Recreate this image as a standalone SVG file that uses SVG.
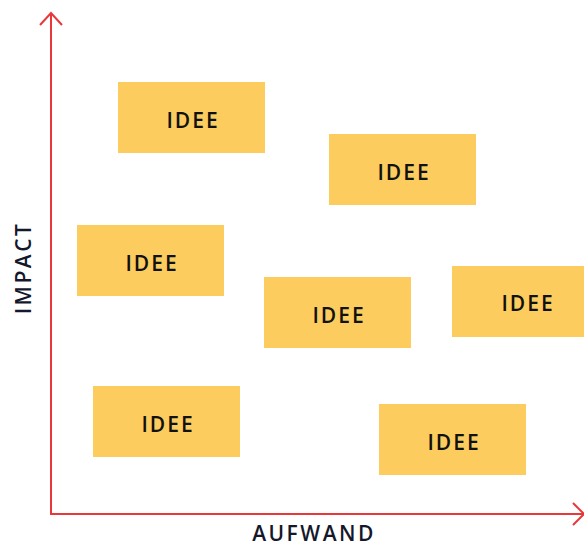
<svg xmlns="http://www.w3.org/2000/svg" width="584" height="546" viewBox="0 0 584 546">
<style>
.box{fill:#fccd5e}
.t{font-family:"Open Sans","Noto Sans",sans-serif;font-weight:600;font-size:21px;letter-spacing:2px;fill:#111;text-anchor:middle}
.ax{font-family:"Open Sans","Noto Sans",sans-serif;font-weight:600;font-size:21px;letter-spacing:2.5px;fill:#15182b;text-anchor:middle}
.axis{stroke:#e8383a;stroke-width:2;fill:none}
</style>
<rect width="584" height="546" fill="#fff"/>
<g id="connectors">
<path class="axis" d="M51,14 V514 H584"/>
<path class="axis" d="M40,25 L51,13 L62,25"/>
<path class="axis" d="M573,503 L584,514 L573,525"/>
</g>
<g id="idee1"><rect class="box" x="118" y="82" width="147" height="71"/><text class="t" x="193" y="128">IDEE</text></g>
<g id="idee2"><rect class="box" x="329" y="134" width="147" height="71"/><text class="t" x="404" y="180">IDEE</text></g>
<g id="idee3"><rect class="box" x="77" y="225" width="147" height="71"/><text class="t" x="152" y="271">IDEE</text></g>
<g id="idee4"><rect class="box" x="264" y="277" width="147" height="71"/><text class="t" x="339" y="323">IDEE</text></g>
<g id="idee5"><rect class="box" x="452" y="266" width="147" height="71"/><text class="t" x="528" y="311">IDEE</text></g>
<g id="idee6"><rect class="box" x="93" y="386" width="147" height="71"/><text class="t" x="168" y="432">IDEE</text></g>
<g id="idee7"><rect class="box" x="379" y="404" width="147" height="71"/><text class="t" x="454" y="450">IDEE</text></g>
<text class="ax" x="314" y="541">AUFWAND</text>
<text class="ax" transform="translate(31,268) rotate(-90)" x="0" y="0">IMPACT</text>
</svg>
